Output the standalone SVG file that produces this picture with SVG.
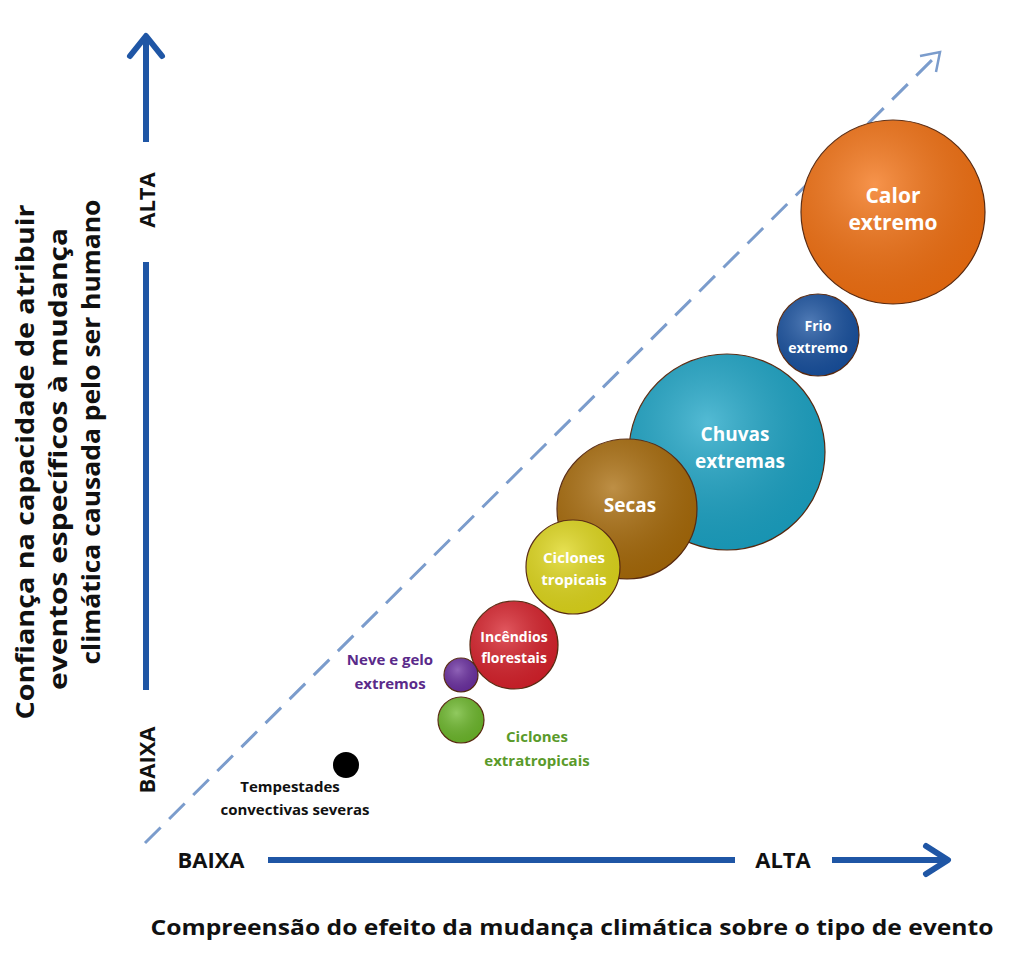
<svg xmlns="http://www.w3.org/2000/svg" width="1024" height="979" viewBox="0 0 1024 979">
<style>
text{font-family:"Open Sans","Liberation Sans",sans-serif;font-weight:bold}
.ax{stroke:#1f56a5;stroke-width:6;fill:none}
.ah{stroke:#1f56a5;stroke-width:6;fill:none;stroke-linecap:round;stroke-linejoin:round}
.w{fill:#fff;text-anchor:middle}
.bub{stroke:#5a2a10;stroke-width:1.2}
</style>
<defs>
<radialGradient id="g" cx="0.4" cy="0.35" r="0.7"><stop offset="0" stop-color="#fff" stop-opacity="0.25"/><stop offset="1" stop-color="#000" stop-opacity="0.1"/></radialGradient>
</defs>
<rect width="1024" height="979" fill="#fff"/>
<g id="axes">
<line class="ax" x1="146" y1="40" x2="146" y2="142"/>
<polyline class="ah" points="130,56 146,36 162,56"/>
<line class="ax" x1="146" y1="262" x2="146" y2="690"/>
<line class="ax" x1="268" y1="860" x2="735" y2="860"/>
<line class="ax" x1="832" y1="860" x2="944" y2="860"/>
<polyline class="ah" points="926,846 948,860 926,874"/>
<text transform="translate(155,200) rotate(-90)" text-anchor="middle" font-size="22" fill="#111">ALTA</text>
<text transform="translate(155,760) rotate(-90)" text-anchor="middle" font-size="22" fill="#111">BAIXA</text>
<text x="211" y="868" text-anchor="middle" font-size="22" fill="#111">BAIXA</text>
<text x="783" y="868" text-anchor="middle" font-size="22" fill="#111">ALTA</text>
<g font-size="25" fill="#111" text-anchor="middle">
<text transform="translate(34,462) rotate(-90)" textLength="515" lengthAdjust="spacingAndGlyphs">Confiança na capacidade de atribuir</text>
<text transform="translate(67,459) rotate(-90)" textLength="462" lengthAdjust="spacingAndGlyphs">eventos específicos à mudança</text>
<text transform="translate(100,432) rotate(-90)" textLength="465" lengthAdjust="spacingAndGlyphs">climática causada pelo ser humano</text>
</g>
<text x="572" y="935" text-anchor="middle" font-size="21" fill="#111" textLength="843" lengthAdjust="spacingAndGlyphs">Compreensão do efeito da mudança climática sobre o tipo de evento</text>
</g>
<g id="connectors">
<line x1="145" y1="843" x2="936" y2="56" stroke="#7b9ccc" stroke-width="3" stroke-dasharray="22,12"/>
<polyline points="920,56 940,52 936,72" fill="none" stroke="#7b9ccc" stroke-width="2.5"/>
</g>
<g id="calor"><circle class="bub" cx="893" cy="212" r="92" fill="#f47010"/><circle cx="893" cy="212" r="92" fill="url(#g)"/>
<text class="w" x="893" y="203" font-size="21">Calor</text><text class="w" x="893" y="230" font-size="21">extremo</text></g>
<g id="frio"><circle class="bub" cx="818" cy="335" r="41" fill="#17509f"/><circle cx="818" cy="335" r="41" fill="url(#g)"/>
<text class="w" x="818" y="331" font-size="14">Frio</text><text class="w" x="818" y="353" font-size="14">extremo</text></g>
<g id="chuvas"><circle class="bub" cx="727" cy="452" r="98" fill="#1aa4c6"/><circle cx="727" cy="452" r="98" fill="url(#g)"/>
<text class="w" x="735" y="441" font-size="19">Chuvas</text><text class="w" x="740" y="468" font-size="19">extremas</text></g>
<g id="secas"><circle class="bub" cx="627" cy="509" r="70" fill="#a86a08"/><circle cx="627" cy="509" r="70" fill="url(#g)"/>
<text class="w" x="630" y="512" font-size="19">Secas</text></g>
<g id="ctrop"><circle class="bub" cx="573" cy="567" r="47" fill="#e0d81a"/><circle cx="573" cy="567" r="47" fill="url(#g)"/>
<text class="w" x="574" y="563" font-size="15">Ciclones</text><text class="w" x="574" y="585" font-size="15">tropicais</text></g>
<g id="incendios"><circle class="bub" cx="514" cy="645" r="44" fill="#d8202a"/><circle cx="514" cy="645" r="44" fill="url(#g)"/>
<text class="w" x="514" y="642" font-size="14">Incêndios</text><text class="w" x="514" y="663" font-size="14">florestais</text></g>
<g id="neve"><circle class="bub" cx="461" cy="675" r="17" fill="#6a2ea0"/><circle cx="461" cy="675" r="17" fill="url(#g)"/>
<text x="390" y="665" text-anchor="middle" font-size="15" fill="#5a2a8a">Neve e gelo</text><text x="390" y="689" text-anchor="middle" font-size="15" fill="#5a2a8a">extremos</text></g>
<g id="extratrop"><circle class="bub" cx="461" cy="720" r="23" fill="#6cb82a"/><circle cx="461" cy="720" r="23" fill="url(#g)"/>
<text x="537" y="742" text-anchor="middle" font-size="15" fill="#5a9a2a">Ciclones</text><text x="537" y="766" text-anchor="middle" font-size="15" fill="#5a9a2a">extratropicais</text></g>
<g id="tempestades"><circle cx="346" cy="765" r="13" fill="#000"/>
<text x="290" y="792" text-anchor="middle" font-size="15" fill="#111">Tempestades</text><text x="295" y="815" text-anchor="middle" font-size="15" fill="#111">convectivas severas</text></g>
</svg>
